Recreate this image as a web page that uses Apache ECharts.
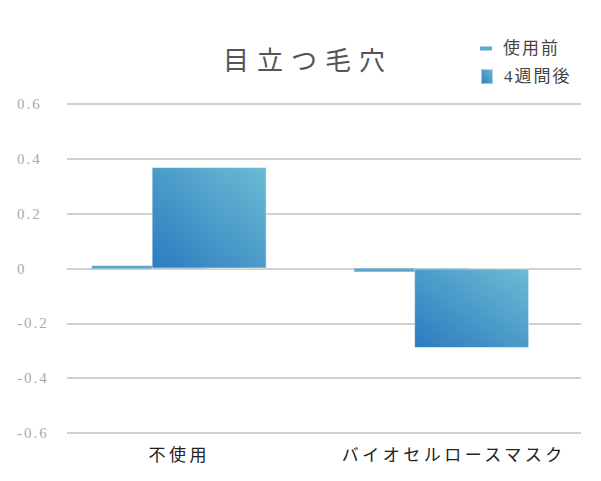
<!DOCTYPE html>
<html>
<head>
    <meta charset="utf-8" />
    <title>目立つ毛穴</title>
    <script src="https://cdn.jsdelivr.net/npm/echarts@6/dist/echarts.min.js"></script>
    <style>
        body, html {
            margin: 0;
            padding: 0;
            background: #fff;
        }
        #chart {
            width: 601px;
            height: 481px;
        }
    </style>
</head>
<body>
<div id="chart"></div>
<script type="text/javascript">
    // データ
    var categories = ['不使用', 'バイオセルロースマスク'];
    var beforeValues = [0.01, -0.012];
    var afterValues = [0.37, -0.29];
    var seriesNames = ['使用前', '4週間後'];
    var titleText = '目立つ毛穴';

    var serifFont = "'Liberation Serif', 'DejaVu Serif', 'Noto Sans CJK JP', serif";

    var chart = echarts.init(document.getElementById('chart'), null, { renderer: 'svg' });

    var gradient = new echarts.graphic.LinearGradient(0, 1, 1, 0, [
        { offset: 0, color: '#2c7bc0' },
        { offset: 1, color: '#6bbcd4' }
    ]);

    var legendText = { fontFamily: serifFont, fontSize: 17, color: '#444', padding: [0, 0, 0, 6] };

    var option = {
        animation: false,
        title: {
            text: titleText,
            left: 218,
            top: 43,
            textStyle: {
                fontFamily: serifFont,
                fontSize: 26,
                fontWeight: 'normal',
                color: '#555'
            }
        },
        legend: [
            {
                data: [seriesNames[0]],
                left: 475,
                top: 35,
                itemWidth: 12,
                itemHeight: 4,
                icon: 'rect',
                textStyle: legendText
            },
            {
                data: [seriesNames[1]],
                left: 475,
                top: 63,
                itemWidth: 12,
                itemHeight: 15,
                icon: 'rect',
                textStyle: legendText
            }
        ],
        grid: [
            { left: 67, right: 20, top: 104, bottom: 48 },   // 目盛り用
            { left: 48, right: 28, top: 104, bottom: 48 }    // 棒グラフ用
        ],
        xAxis: [
            {
                type: 'category',
                gridIndex: 0,
                data: categories,
                show: false
            },
            {
                type: 'category',
                gridIndex: 1,
                data: categories,
                axisLine: { show: false, onZero: false },
                axisTick: { show: false },
                axisLabel: {
                    margin: 14,
                    fontFamily: serifFont,
                    fontSize: 17,
                    color: '#222'
                }
            }
        ],
        yAxis: [
            {
                type: 'value',
                gridIndex: 0,
                min: -0.6,
                max: 0.6,
                interval: 0.2,
                axisLine: { show: false },
                axisTick: { show: false },
                axisLabel: {
                    align: 'left',
                    margin: 50,
                    fontFamily: serifFont,
                    fontSize: 15,
                    color: '#aaa',
                    formatter: function (v) {
                        return Math.abs(v) < 1e-9 ? '0' : v.toFixed(1);
                    }
                },
                splitLine: { lineStyle: { color: '#d0d0d0', width: 2 } }
            },
            {
                type: 'value',
                gridIndex: 1,
                min: -0.6,
                max: 0.6,
                interval: 0.2,
                show: false,
                splitLine: { show: false }
            }
        ],
        series: [
            {
                name: seriesNames[0],
                type: 'bar',
                xAxisIndex: 1,
                yAxisIndex: 1,
                data: beforeValues,
                barWidth: 115,
                barGap: '-48%',
                itemStyle: { color: '#5ba7cd' }
            },
            {
                name: seriesNames[1],
                type: 'bar',
                xAxisIndex: 1,
                yAxisIndex: 1,
                data: afterValues,
                barWidth: 115,
                itemStyle: {
                    color: gradient,
                    borderColor: 'rgba(255,255,255,0.5)',
                    borderWidth: 1
                }
            }
        ]
    };
    chart.setOption(option);

    // 字間を広げる（SVG の text に letter-spacing を付ける）
    var texts = document.querySelectorAll('#chart text');
    for (var i = 0; i < texts.length; i++) {
        var t = texts[i];
        var s = t.textContent;
        if (s === titleText) {
            t.setAttribute('letter-spacing', '8px');
        } else if (categories.indexOf(s) >= 0) {
            t.setAttribute('letter-spacing', '3.5px');
            if (s === categories[1]) t.setAttribute('dx', '12');
        } else {
            t.setAttribute('letter-spacing', '2px');
        }
    }
</script>
</body>
</html>
